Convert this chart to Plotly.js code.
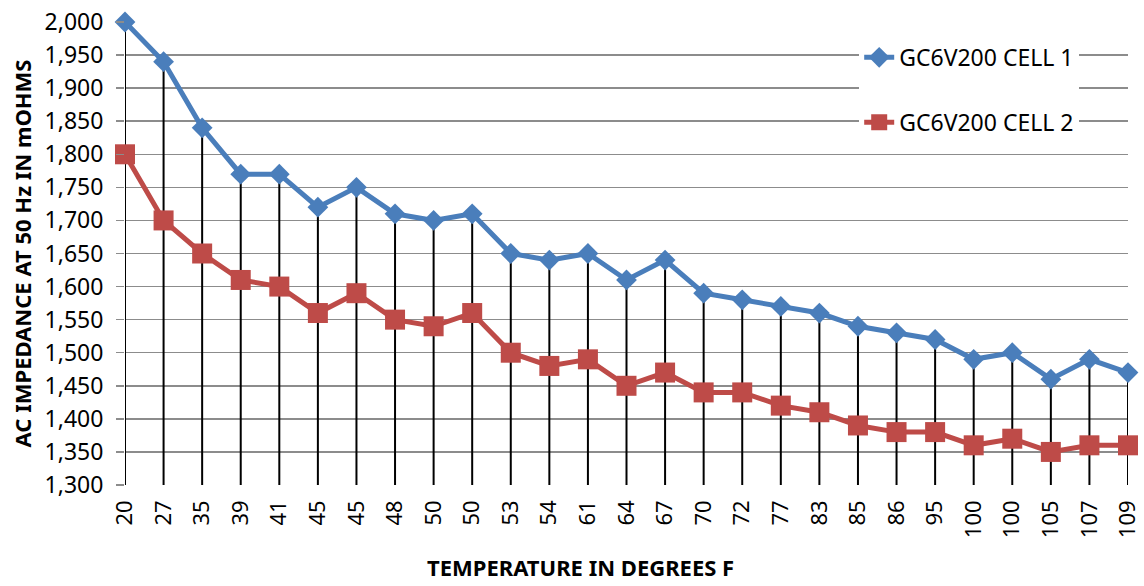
<!DOCTYPE html>
<html>
<head>
<meta charset="utf-8">
<script src="https://cdn.plot.ly/plotly-3.0.1.min.js"></script>
<style>
  html, body { margin: 0; padding: 0; background: #ffffff; }
  #chart { width: 1144px; height: 586px; }
</style>
</head>
<body>
<div id="chart"></div>
<script>
// Temperature categories (degrees F), shown in order, duplicates included
const temperatures = [20, 27, 35, 39, 41, 45, 45, 48, 50, 50, 53, 54, 61, 64, 67, 70, 72, 77, 83, 85, 86, 95, 100, 100, 105, 107, 109];

// AC impedance at 50 Hz (mOhms)
const cell1 = [2000, 1940, 1840, 1770, 1770, 1720, 1750, 1710, 1700, 1710, 1650, 1640, 1650, 1610, 1640, 1590, 1580, 1570, 1560, 1540, 1530, 1520, 1490, 1500, 1460, 1490, 1470];
const cell2 = [1800, 1700, 1650, 1610, 1600, 1560, 1590, 1550, 1540, 1560, 1500, 1480, 1490, 1450, 1470, 1440, 1440, 1420, 1410, 1390, 1380, 1380, 1360, 1370, 1350, 1360, 1360];

const seriesNames = ['GC6V200 CELL 1', 'GC6V200 CELL 2'];
const xTitle = 'TEMPERATURE IN DEGREES F';
const yTitle = 'AC IMPEDANCE AT 50 Hz IN mOHMS';
const yMin = 1300, yMax = 2000;

const idx = temperatures.map((_, i) => i);

// Drop lines from the highest point of each category down to the axis
const dropX = [], dropY = [];
idx.forEach(i => {
  const top = Math.max(cell1[i], cell2[i]);
  dropX.push(i, i, null);
  dropY.push(top, yMin, null);
});

const FONT = 'Noto Sans, Open Sans, DejaVu Sans, sans-serif';

const traces = [
  {
    x: dropX, y: dropY, mode: 'lines', type: 'scatter',
    line: { color: '#000000', width: 2 },
    hoverinfo: 'skip', showlegend: false, cliponaxis: false
  },
  {
    x: idx, y: cell1, name: seriesNames[0], mode: 'lines+markers', type: 'scatter',
    line: { color: '#4A7EBB', width: 5 },
    marker: { symbol: 'diamond', size: 16, color: '#4A7EBB' },
    legendgroup: 'a', cliponaxis: false
  },
  {
    x: idx, y: cell2, name: seriesNames[1], mode: 'lines+markers', type: 'scatter',
    line: { color: '#BE4B48', width: 5 },
    marker: { symbol: 'square', size: 20, color: '#BE4B48' },
    legendgroup: 'b', cliponaxis: false
  }
];

const layout = {
  width: 1144, height: 586,
  paper_bgcolor: '#ffffff', plot_bgcolor: '#ffffff',
  margin: { l: 125, r: 16, t: 22, b: 101, pad: 0 },
  font: { family: FONT, color: '#000000', size: 23 },
  showlegend: true,
  legend: {
    x: 0.732, y: 0.97, xanchor: 'left', yanchor: 'top',
    bgcolor: '#ffffff', borderwidth: 0,
    font: { family: FONT, size: 23, color: '#000000' },
    tracegroupgap: 32
  },
  xaxis: {
    range: [0, idx.length - 1],
    tickmode: 'array', tickvals: idx, ticktext: temperatures.map(String),
    tickangle: -90,
    tickfont: { family: FONT, size: 22, color: '#000000' },
    ticklabelstandoff: 10,
    showgrid: false, zeroline: false,
    showline: false, ticks: '',
    fixedrange: true
  },
  yaxis: {
    range: [yMin, yMax],
    tick0: yMin, dtick: 50,
    tickformat: ',d',
    tickfont: { family: FONT, size: 23, color: '#000000' },
    ticklabelstandoff: 8,
    showgrid: true, gridcolor: '#8C8C8C', gridwidth: 1.5,
    zeroline: false, showline: false,
    ticks: 'outside', ticklen: 8, tickcolor: '#8C8C8C', tickwidth: 1.5,
    title: { text: yTitle, font: { family: FONT, size: 22, color: '#000000', weight: 'bold' }, standoff: 6 },
    fixedrange: true
  },
  annotations: [
    {
      text: xTitle, xref: 'paper', yref: 'paper',
      x: (580 - 125) / (1144 - 125 - 16), y: -(567 - 485) / (586 - 22 - 101),
      xanchor: 'center', yanchor: 'middle', showarrow: false,
      font: { family: FONT, size: 22, color: '#000000', weight: 'bold' }
    }
  ]
};

Plotly.newPlot('chart', traces, layout, { displayModeBar: false, staticPlot: true });
</script>
</body>
</html>
